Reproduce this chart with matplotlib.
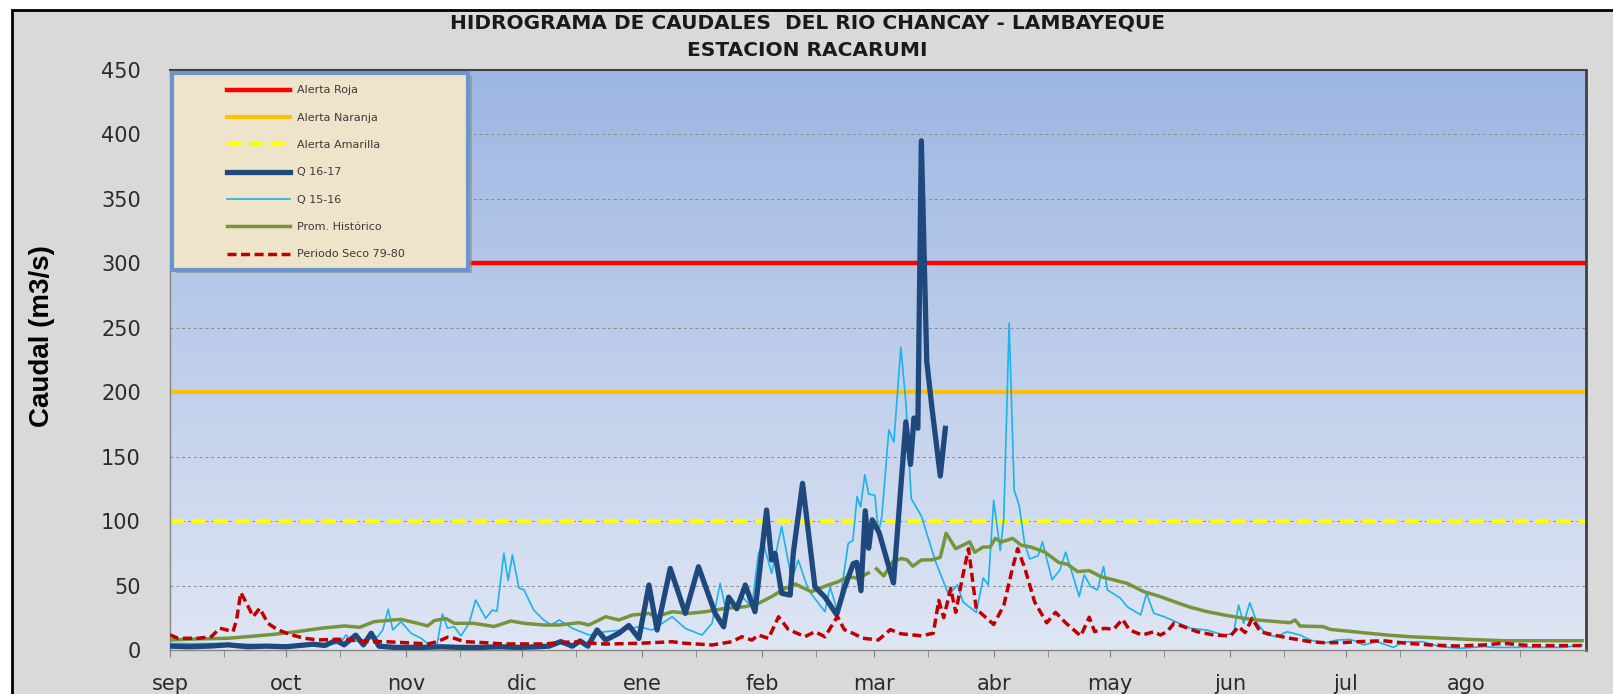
import numpy as np
import matplotlib
matplotlib.use("Agg")
import matplotlib.pyplot as plt
from matplotlib.colors import LinearSegmentedColormap
from matplotlib.patches import Rectangle

# day index counted from 1 September (leap hydrological year)
months = ["sep", "oct", "nov", "dic", "ene", "feb", "mar", "abr", "may", "jun", "jul", "ago"]
month_start = [0, 30, 61, 91, 122, 153, 182, 213, 243, 274, 304, 335]
year_days = 366

alert_roja = 300
alert_naranja = 200
alert_amarilla = 100

q1617_day = [0, 5, 10, 15, 20, 25, 30, 37, 40, 43, 45, 48, 50, 52, 54, 58, 65, 70, 75, 80, 85, 90,
             95, 98, 101, 104, 106, 108, 110.4, 112.6, 116, 118.6, 121.2, 123.8, 125.9, 129.3, 133.2,
             136.6, 140.9, 143.1, 144.4, 146.5, 148.7, 151.2, 154.2, 155.5, 156.4, 158.1, 160.3, 161.1,
             163.5, 166.7, 169.3, 172.3, 174.3, 176.6, 177.5, 178.6, 179.7, 180.6, 181.5, 183.3, 187,
             190.2, 191.4, 192.3, 193.3, 194.2, 195.6, 196.9, 199.1, 200.4]
q1617_val = [3, 2.5, 3, 4, 2.5, 3, 2.5, 4.5, 3.5, 7.5, 4, 11.5, 4, 13, 3, 2, 2, 2.5, 2, 2, 2.5, 2,
             2.5, 3, 6.5, 3, 7, 3, 15.5, 7.7, 13, 19, 9, 50.4, 15.5, 63.3, 28.4,
             64.6, 28.4, 18, 41, 32, 50.4, 29.7, 108.6, 69.8, 75, 44, 42.6, 75,
             129.3, 49, 41, 27.5, 47.9, 67, 68, 46, 108, 79, 101, 91, 52,
             177, 144, 180, 172, 395, 224, 189, 135, 172]

q1516_day = [0, 8, 15, 25, 35, 40, 44, 45.5, 47, 50.3, 53.7, 55, 56.4, 57.6, 59.7, 62.3, 64.9, 67.4,
             69, 70.4, 71.7, 73.5, 75.2, 77.3, 79, 81.6, 83.3, 84.5, 86.3, 87.4, 88.5, 90.2, 91.5, 94,
             96.6, 98.5, 100.6, 104, 108.3, 112.6, 116.9, 121.2, 124.6, 129.8, 133.2, 137.5, 140.1,
             142.2, 143.5, 145.2, 147.8, 150.4, 152.1, 153.4, 155.5, 158.1, 160.7, 162.4, 165, 169.3,
             170.6, 172.7, 175.3, 176.5, 177.6, 178.5, 179.6, 180.6, 182.2, 183.1, 184, 185.8, 187.1,
             188.9, 190.2, 191.6, 194.2, 197.8, 201.3, 203.5, 205, 208.4, 210.2, 211.5, 212.9, 214.6,
             215.5, 216.9, 218.2, 219.5, 220.9, 222.2, 224.4, 225.5, 228, 230, 231.5, 233.7, 235,
             236.3, 238, 239.7, 241.3, 242.3, 245.7, 247.4, 250.9, 252.4, 254.3, 256.9, 259.9, 263.8,
             268, 272.4, 274.9, 276.2, 277.5, 279.1, 281, 283.5, 286.1, 288.7, 292.1, 294.8, 298.2,
             301.6, 305, 306.7, 308.5, 312, 316.2, 318.8, 324, 328.2, 333.4, 339.4, 342.8, 351.4,
             360, 365]
q1516_val = [5, 5, 5, 4, 4, 5, 5, 11.7, 6.5, 7.8, 10.4, 15.6, 31.6, 15.6, 22, 13, 9.1, 3,
             4, 28, 17, 18, 11, 20.7, 38.8, 24.6, 31, 30, 75, 54, 73.8, 48, 46.6, 31,
             23.3, 19.4, 23.3, 16.8, 11.6, 14.2, 15.5, 18.1, 15.5, 25.8, 16.8, 11.6, 20.7,
             51.7, 33.6, 32.3, 41.4, 33.6, 75, 82.7, 59.5, 95.7, 54.3, 69.8, 46.5, 29.7,
             49, 28.4, 82.7, 85, 119, 111, 136, 121, 120, 90.6, 104, 170.8, 161.4,
             234.9, 192, 117.3, 104, 69.2, 42.5, 50.5, 37.2, 29.2, 55.9, 50.5, 116, 77.2,
             101.3, 253.6, 124, 112, 82.6, 70.6, 73.2, 83.9, 54.5, 62, 75.9, 54.5, 41.4,
             58.2, 49.2, 46.6, 64.7, 46.6, 40.1, 33.6, 27.2, 44, 28.5, 25.9, 22, 16.8,
             15.5, 11.6, 12.9, 34.9, 20.7, 36.7, 20.7, 11.6, 10.4, 14.2, 11.6, 7.7, 5.2,
             7.7, 8.3, 6.5, 3.9, 6.4, 2, 6.4, 6.4, 2.6, 1.3, 2.6, 2, 2,
             2, 3.9]

prom_day = [0, 7.3, 15, 20.2, 27, 33, 39.1, 45.1, 49, 52.8, 59.7, 64, 66.6, 68.3, 71.3, 73.5, 78.5,
            83.8, 88.1, 91.5, 96.6, 100.6, 105.7, 108.3, 112.6, 116, 119.5, 123.8, 125.5, 129.8, 134,
            138.4, 143.5, 148.7, 152.1, 155.5, 159, 161.6, 165.8, 170.1, 172.7, 175.3, 177.9, 180.5,
            181.5, 182.6, 184.5, 186.8, 189, 190.5, 192, 194.2, 197, 199.1, 200.6, 203.1, 206.7, 208,
            210.2, 212, 213.3, 215, 217.8, 220, 222.5, 226.2, 229.7, 232, 234.6, 237.6, 240.6, 244,
            247.4, 251.7, 256, 260.3, 263.8, 268, 272.4, 277.5, 281, 286.1, 289.5, 290.8, 292.1,
            298.1, 299.9, 304.2, 308.5, 314.5, 320.5, 326.5, 335.1, 344.6, 365]
prom_val = [7.8, 8.6, 9.1, 10.4, 12.2, 14.3, 16.9, 18.7, 17.6, 22, 23.8, 20.7, 18.7, 22.8, 24.4, 20.7, 20.7,
            18.2, 22.5, 20.7, 19.4, 19.4, 21.2, 19.4, 25.8, 23.3, 27.1, 28.4, 25.8, 29.7, 28.4,
            29.7, 32.3, 33.6, 36.2, 41.4, 47.8, 51.2, 45.2, 50.4, 53, 56.9, 55.6, 59.8,
            np.nan, 63, 57.5, 68.5, 71, 70, 65, 69.8, 70, 71.9, 90.6, 78.6, 83.9, 75.9,
            79.9, 79.9, 86.6, 83.9, 86.6, 81.3, 79.9, 75.9, 67.9, 66.5, 60.8, 61.6, 56.9, 54.3,
            51.7, 45.3, 41.4, 36.7, 33.1, 29.8, 27.2, 24.6, 23.3, 22, 21.2, 23.3, 18.6,
            18.1, 16, 14.7, 13.4, 11.6, 10.3, 9.5, 8.3, 7.2, 7.2]

seco_day = [0, 2.1, 7.3, 10.7, 12.9, 14.6, 16.3, 17.2, 18.3, 19.8, 21.5, 23.2, 25.3, 27.9, 31.4, 34.8,
            38.2, 43.4, 46.8, 50.3, 55.4, 60.6, 66.6, 69.2, 71.7, 73.5, 76, 81.2, 86.3, 96.6, 104,
            112.6, 121.2, 129.8, 133.2, 140.1, 145.2, 147.8, 150.4, 152.1, 154.7, 157.3, 159.8, 164.1,
            166.7, 169.3, 172.5, 174.3, 176.5, 179.1, 183.1, 186.2, 188.9, 194.2, 197.3, 198.7, 200,
            201.8, 203.1, 204.8, 206.4, 208.4, 212.9, 215.5, 217.8, 219.1, 220.9, 223.5, 226.6,
            228.9, 231.5, 235.4, 237.6, 239, 241.4, 243.9, 246.2, 248, 251.3, 254.3, 256, 257.7,
            259.5, 262, 265.5, 269.8, 274.1, 276.2, 277.9, 279.7, 281.8, 285.3, 289.5, 294.7, 298,
            303, 306.7, 313.6, 319.7, 325.7, 332.5, 339.4, 344.6, 351.4, 365]
seco_val = [11.7, 9.1, 9.1, 10.4, 16.9, 15.6, 14.3, 23.3, 44.5, 36.2, 25.9, 32.4, 20.7, 15.6, 11.7, 9.1,
            7.8, 8.3, 7.8, 6.5, 6.5, 5.7, 4.7, 6.5, 9.9, 9.1, 6.5, 5.7, 4.7, 4.7, 6.4,
            4.6, 5.2, 6.4, 5.2, 3.9, 6.4, 10.3, 7.7, 11.6, 9, 25.8, 16, 10.3,
            14.2, 10.3, 26, 15.8, 13, 9.1, 7.8, 15.8, 12.6, 11, 13, 38.5, 25.1,
            47.9, 29.2, 55.9, 78.6, 31.8, 19.8, 34.5, 63.9, 78.6, 63.9, 37.2, 21.1,
            29.2, 21.1, 10.9, 25.4, 14.2, 16.8, 16.1, 23.8, 15.5, 11.6, 14.2, 11.6, 14.2,
            20.7, 18.1, 14.2, 11.6, 10.9, 18.1, 13.5, 24.6, 14.2, 11.6, 9.1, 6.5, 5.7,
            5.7, 6.4, 7.2, 5.2, 3.9, 3.1, 3.9, 5.2, 3.4, 3.4]

W, H = 1613, 694
fig = plt.figure(figsize=(W / 100, H / 100), dpi=100, facecolor="white")

# grey chart area with black frame (only top and left edges visible)
fig.add_artist(Rectangle((12 / W, -0.05), 1.1, 1 - 10 / H + 0.05, transform=fig.transFigure,
                         facecolor="#d9d9d9", edgecolor="black", linewidth=2, zorder=-10))

ax = fig.add_axes([170 / W, 44 / H, 1416 / W, 580 / H])

# plot area gradient
grad = LinearSegmentedColormap.from_list("bg", ["#dfe6f4", "#9db6e2"])
ax.imshow(np.linspace(0, 1, 256).reshape(-1, 1), cmap=grad, origin="lower", aspect="auto",
          extent=[0, year_days, 0, 450], zorder=0)

ax.axhline(alert_roja, color="#ff0000", lw=3.2, zorder=2, label="Alerta Roja")
ax.axhline(alert_naranja, color="#ffc000", lw=3.0, zorder=2, label="Alerta Naranja")
ax.axhline(alert_amarilla, color="#ffff00", lw=3.0, ls=(0, (3.4, 1.8)), zorder=2, label="Alerta Amarilla")
ax.plot(q1617_day, q1617_val, color="#1f497d", lw=3.8, zorder=5, solid_joinstyle="round", label="Q 16-17")
ax.plot(q1516_day, q1516_val, color="#1cb2ec", lw=1.2, zorder=3, label="Q 15-16")
ax.plot(prom_day, prom_val, color="#77933c", lw=2.5, zorder=4, label="Prom. Histórico")
ax.plot(seco_day, seco_val, color="#c00000", lw=2.5, ls=(0, (2.6, 1.3)), zorder=6, label="Periodo Seco 79-80")

ax.set_xlim(0, year_days)
ax.set_ylim(0, 450)
ax.set_yticks(np.arange(0, 451, 50))
ax.set_xticks(month_start)
ax.set_xticklabels(months)
ax.set_xticks([d + 14 for d in month_start], minor=True)

ax.set_axisbelow(True)
ax.yaxis.grid(True, color="#8a8a8a", lw=0.7, ls=(0, (3, 3)))
ax.tick_params(axis="y", length=0, pad=21, labelsize=15, labelcolor="#2b2b2b")
ax.tick_params(axis="x", which="both", direction="out", length=5, color="#808080")
ax.tick_params(axis="x", which="major", pad=12, labelsize=15, labelcolor="#2b2b2b")

for side in ["left", "bottom"]:
    ax.spines[side].set_color("#868686")
    ax.spines[side].set_linewidth(1)
ax.spines["top"].set_color("#404040")
ax.spines["top"].set_linewidth(1.5)
ax.spines["right"].set_color("#404040")
ax.spines["right"].set_linewidth(2)

ax.set_ylabel("Caudal (m3/s)", family=["Liberation Sans", "DejaVu Sans"], fontweight="bold",
              fontsize=20, color="black")
ax.yaxis.label.set_verticalalignment("center")
ax.yaxis.set_label_coords(-0.0905, 0.541)

fig.text(807 / W, 1 - 23 / H, "HIDROGRAMA DE CAUDALES  DEL RIO CHANCAY - LAMBAYEQUE", ha="center",
         va="center", fontsize=14.5, fontweight="bold", color="#1a1a1a")
fig.text(807 / W, 1 - 51 / H, "ESTACION RACARUMI", ha="center", va="center", fontsize=14.5,
         fontweight="bold", color="#1a1a1a")

# legend box with parchment fill
ax.add_patch(Rectangle((0.004, 0.650), 0.209, 0.340, transform=ax.transAxes, facecolor="#8c8c8c",
                       edgecolor="none", alpha=0.6, zorder=7))
ax.add_patch(Rectangle((0.0014, 0.655), 0.209, 0.340, transform=ax.transAxes, facecolor="#eee4ca",
                       edgecolor="#6b95cc", linewidth=3, zorder=8))
leg = ax.legend(loc="upper left", bbox_to_anchor=(0.0403, 0.9733), frameon=False, fontsize=8,
                borderpad=0, borderaxespad=0, labelspacing=1.56, handlelength=5.7, handletextpad=0.63)
leg.set_zorder(9)
for t in leg.get_texts():
    t.set_color("#3a3a3a")

fig.savefig("out.png", dpi=100, facecolor=fig.get_facecolor())
